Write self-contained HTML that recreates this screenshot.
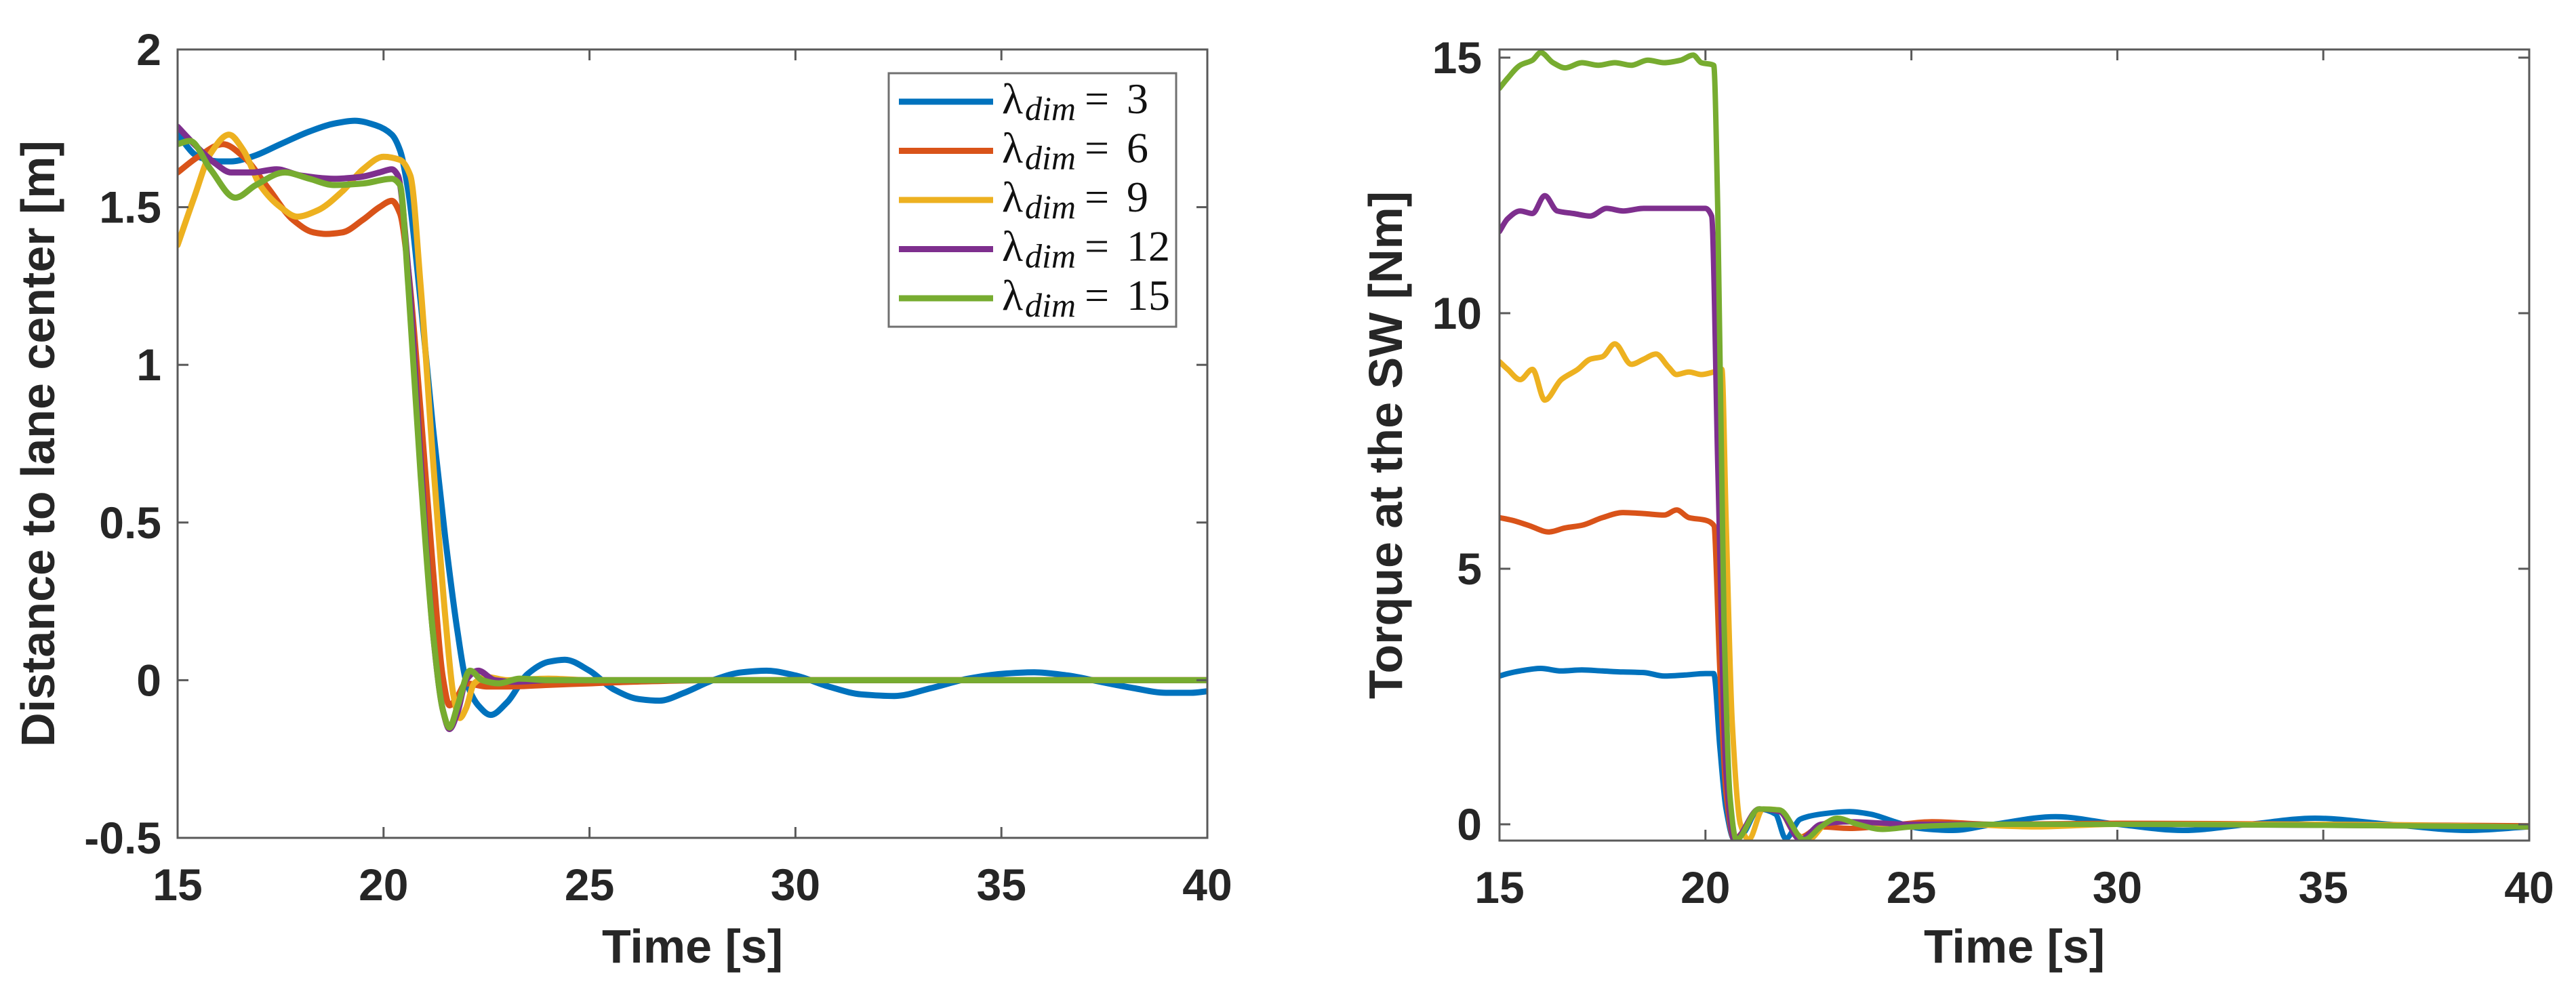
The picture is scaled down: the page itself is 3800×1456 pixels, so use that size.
<!DOCTYPE html>
<html><head><meta charset="utf-8">
<style>
html,body{margin:0;padding:0;background:#fff;}
svg{display:block;}
text{font-family:"Liberation Sans",sans-serif;font-weight:bold;fill:#262626;}
.leg{font-family:"Liberation Serif",serif;font-weight:normal;fill:#111;}
</style></head>
<body>
<svg id="fig" width="3800" height="1456" viewBox="0 0 3800 1456" xmlns="http://www.w3.org/2000/svg">
<rect width="3800" height="1456" fill="#fff"/>
<g id="left"></g>
<g id="right"></g>
</svg>
<script>
// ===== shared
const seriesNames = ["lambda-3","lambda-6","lambda-9","lambda-12","lambda-15"];
const seriesColors = ["#0072BD","#D95319","#EDB120","#7E2F8E","#77AC30"];
const legendValues = ["3","6","9","12","15"];
const xTicks = [15,20,25,30,35,40];
const leftYTicks = [-0.5,0,0.5,1,1.5,2];
const leftYLabels = ["-0.5","0","0.5","1","1.5","2"];
const rightYTicks = [0,5,10,15];

// ===== left chart data (distance to lane center)
const lt0 = [15,15.5,16,16.3,16.8,17.5,18.2,18.8,19.3,19.8,20.2,20.4,20.6,20.9,21.2,21.5,21.8,22.0,22.3,22.6,23.0,23.5,24.0,24.4,25.0,25.6,26.2,26.7,27.3,28.0,28.7,29.3,30.0,30.8,31.6,32.4,33.3,34.2,35.0,35.8,36.6,37.4,38.2,39.0,39.6,40];
const lv0 = [1.73,1.66,1.645,1.645,1.66,1.70,1.74,1.765,1.774,1.76,1.73,1.68,1.55,1.20,0.80,0.45,0.15,0.0,-0.08,-0.11,-0.07,0.02,0.058,0.065,0.03,-0.03,-0.06,-0.065,-0.04,0.0,0.025,0.03,0.015,-0.02,-0.045,-0.05,-0.025,0.005,0.02,0.025,0.015,-0.005,-0.025,-0.04,-0.04,-0.035];
const lt1 = [15,15.5,16.1,16.6,17.2,17.8,18.3,18.6,19.0,19.5,19.9,20.2,20.4,20.6,20.9,21.2,21.45,21.6,21.8,22.0,22.5,23.0,24.0,25.0,26.0,28.0,30.0,35.0,40];
const lv1 = [1.61,1.66,1.70,1.66,1.56,1.46,1.42,1.415,1.42,1.46,1.50,1.52,1.48,1.30,0.85,0.35,0.0,-0.08,-0.05,-0.01,-0.02,-0.02,-0.015,-0.01,-0.005,0,0,0,0];
const lt2 = [15,15.4,15.8,16.25,16.6,17.0,17.5,17.9,18.4,19.0,19.5,20.0,20.4,20.65,20.9,21.2,21.5,21.7,21.85,22.0,22.2,22.5,23.0,24.0,25.0,28.0,32.0,40];
const lv2 = [1.38,1.53,1.67,1.73,1.68,1.57,1.50,1.47,1.49,1.55,1.62,1.66,1.65,1.60,1.25,0.70,0.20,-0.05,-0.12,-0.09,-0.01,0.01,0.0,0.005,0.0,0,0,0];
const lt3 = [15,15.4,15.9,16.3,16.8,17.4,18.0,18.8,19.4,19.9,20.2,20.35,20.6,20.9,21.2,21.45,21.6,21.8,22.0,22.3,22.7,23.2,24.0,26.0,30.0,40];
const lv3 = [1.755,1.70,1.64,1.61,1.61,1.62,1.60,1.59,1.595,1.61,1.62,1.60,1.30,0.70,0.15,-0.10,-0.155,-0.10,0.0,0.03,0.0,-0.005,0.0,0,0,0];
const lt4 = [15,15.3,15.8,16.4,16.9,17.6,18.2,18.8,19.5,20.2,20.4,20.6,20.9,21.2,21.45,21.6,21.8,22.1,22.4,22.8,23.3,24.0,26.0,30.0,40];
const lv4 = [1.70,1.71,1.62,1.53,1.57,1.61,1.59,1.57,1.575,1.59,1.57,1.25,0.65,0.15,-0.10,-0.15,-0.08,0.03,0.00,-0.01,0.005,0.0,0,0,0];
const leftT = [lt0,lt1,lt2,lt3,lt4];
const leftV = [lv0,lv1,lv2,lv3,lv4];

// ===== right chart data (torque)
const rt0 = [15,15.2,15.5,16.0,16.5,17.0,17.5,18.0,18.5,19.0,19.5,20.0,20.2,20.35,20.5,20.7,20.9,21.3,21.7,21.95,22.3,22.8,23.5,24.0,24.6,25.2,26.0,27.0,28.5,30.0,31.6,33.2,34.8,36.6,38.5,40];
const rv0 = [2.9,2.95,3.0,3.05,3.0,3.02,3.0,2.98,2.97,2.9,2.92,2.95,2.95,1.5,0.3,-0.3,-0.2,0.3,0.2,-0.28,0.1,0.2,0.25,0.2,0.05,-0.08,-0.12,0.0,0.15,0.0,-0.12,0.0,0.12,0.0,-0.12,-0.05];
const rt1 = [15,15.3,15.7,16.2,16.6,17.0,17.5,18.0,18.5,19.0,19.3,19.6,20.0,20.2,20.35,20.5,20.7,20.9,21.3,21.8,22.3,22.8,23.5,24.5,25.5,27.0,30.0,35.0,40];
const rv1 = [6.0,5.95,5.85,5.72,5.8,5.85,6.0,6.1,6.08,6.05,6.15,6.0,5.95,5.85,3.0,0.6,-0.3,-0.15,0.3,0.25,-0.25,-0.05,-0.08,-0.02,0.05,0.0,0.02,0.0,-0.03];
const rt2 = [15,15.2,15.5,15.8,16.1,16.5,16.9,17.2,17.5,17.8,18.2,18.5,18.8,19.1,19.3,19.6,19.9,20.2,20.4,20.5,20.65,20.85,21.05,21.4,21.8,22.1,22.5,23.0,23.5,24.2,25.0,26.0,28.0,30.0,35.0,40];
const rv2 = [9.05,8.9,8.7,8.9,8.3,8.7,8.9,9.1,9.15,9.4,9.0,9.1,9.2,8.95,8.8,8.85,8.8,8.85,8.9,6.0,2.0,0.0,-0.3,0.3,0.28,-0.1,-0.3,0.05,0.05,-0.05,-0.05,0.0,-0.05,0.0,0.0,-0.05];
const rt3 = [15,15.2,15.5,15.8,16.1,16.4,16.8,17.2,17.6,18.0,18.5,19.0,19.5,20.0,20.15,20.3,20.5,20.7,21.3,21.8,22.3,22.8,23.5,25.0,30.0,40];
const rv3 = [11.6,11.85,12.0,11.95,12.3,12.0,11.95,11.9,12.05,12.0,12.05,12.05,12.05,12.05,11.9,7.0,1.0,-0.3,0.3,0.25,-0.3,0.0,0.05,0.0,0.0,-0.05];
const rt4 = [15,15.2,15.5,15.8,16.0,16.3,16.6,17.0,17.4,17.8,18.2,18.6,19.0,19.4,19.7,19.9,20.2,20.3,20.45,20.6,20.75,21.3,21.8,22.4,22.8,23.2,23.7,24.3,25.0,27.0,30.0,35.0,40];
const rv4 = [14.4,14.6,14.85,14.95,15.1,14.9,14.8,14.9,14.85,14.9,14.85,14.95,14.9,14.95,15.05,14.9,14.85,12.0,4.0,0.5,-0.3,0.3,0.28,-0.3,-0.05,0.12,0.0,-0.1,-0.05,0.0,0.0,-0.02,-0.05];
const rightT = [rt0,rt1,rt2,rt3,rt4];
const rightV = [rv0,rv1,rv2,rv3,rv4];

const NS = "http://www.w3.org/2000/svg";
function mk(parent, tag, attrs){
  const e = document.createElementNS(NS, tag);
  for (const k in attrs) e.setAttribute(k, attrs[k]);
  parent.appendChild(e);
  return e;
}
// monotone cubic (Fritsch-Carlson) path, no overshoot
function smoothPath(ts, vs, sx, sy){
  const xs = ts.map(sx), ys = vs.map(sy), n = xs.length;
  const d = [], m = new Array(n);
  for (let i=0;i<n-1;i++) d.push((ys[i+1]-ys[i])/(xs[i+1]-xs[i]));
  m[0]=d[0]; m[n-1]=d[n-2];
  for (let i=1;i<n-1;i++){
    if (d[i-1]*d[i] <= 0) m[i]=0;
    else { const h0=xs[i]-xs[i-1], h1=xs[i+1]-xs[i];
      const w1=2*h1+h0, w2=h1+2*h0;
      m[i]=(w1+w2)/(w1/d[i-1]+w2/d[i]); }
  }
  let s = "M"+xs[0].toFixed(1)+","+ys[0].toFixed(1);
  for (let i=0;i<n-1;i++){
    const h=(xs[i+1]-xs[i])/3;
    s += " C"+(xs[i]+h).toFixed(1)+","+(ys[i]+m[i]*h).toFixed(1)+" "+(xs[i+1]-h).toFixed(1)+","+(ys[i+1]-m[i+1]*h).toFixed(1)+" "+xs[i+1].toFixed(1)+","+ys[i+1].toFixed(1);
  }
  return s;
}

function makeClip(g, L, R, T, B){
  const clipId = g.id+"-clip";
  const defs = mk(g,"defs",{});
  const cp = mk(defs,"clipPath",{id:clipId});
  mk(cp,"rect",{x:L,y:T,width:R-L,height:B-T});
  return clipId;
}
function drawFrame(g, L, R, T, B, sx, sy, yTicks, yLabels, yTitle, yTitleX, yLabelRight){
  const fr = mk(g,"rect",{x:L,y:T,width:R-L,height:B-T,fill:"none",stroke:"#595959","stroke-width":3});
  
  
  const tl = 16;
  xTicks.forEach(t=>{
    const x = sx(t);
    mk(g,"line",{x1:x,y1:B,x2:x,y2:B-tl,stroke:"#595959","stroke-width":3});
    mk(g,"line",{x1:x,y1:T,x2:x,y2:T+tl,stroke:"#595959","stroke-width":3});
    const tx = mk(g,"text",{x:x,y:B+92,"text-anchor":"middle","font-size":66});
    tx.textContent = t;
    
    
  });
  yTicks.forEach((v,i)=>{
    const y = sy(v);
    mk(g,"line",{x1:L,y1:y,x2:L+tl,y2:y,stroke:"#595959","stroke-width":3});
    mk(g,"line",{x1:R,y1:y,x2:R-tl,y2:y,stroke:"#595959","stroke-width":3});
    const tx = mk(g,"text",{x:yLabelRight,y:y+23,"text-anchor":"end","font-size":66});
    tx.textContent = yLabels[i];
    
    
  });
  const xt = mk(g,"text",{x:(L+R)/2,y:1420,"text-anchor":"middle","font-size":70});
  xt.textContent = "Time [s]";
  
  
  const cy = (T+B)/2;
  const yt = mk(g,"text",{x:yTitleX,y:cy,"text-anchor":"middle","font-size":70,transform:"rotate(-90 "+yTitleX+" "+cy+")"});
  yt.textContent = yTitle;
  
  
}

// ----- left
(function(){
  const g = document.getElementById("left");
  const L=262,R=1781,T=73,B=1236;
  const sx = t => L + (t-15)/25*(R-L);
  const sy = v => T + (2-v)/2.5*(B-T);
  const clip = makeClip(g,L,R,T,B);
  const lines = mk(g,"g",{"clip-path":"url(#"+clip+")"});
  for (let i=0;i<5;i++){
    const p = mk(lines,"path",{d:smoothPath(leftT[i],leftV[i],sx,sy),fill:"none",stroke:seriesColors[i],"stroke-width":9,"stroke-linejoin":"round","stroke-linecap":"round"});
    
    
  }
  drawFrame(g,L,R,T,B,sx,sy,leftYTicks,leftYLabels,"Distance to lane center [m]",80,238);
  // legend
  const lg = mk(g,"g",{});
  
  
  mk(lg,"rect",{x:1311,y:108,width:424,height:374,fill:"#fff",stroke:"#707070","stroke-width":3});
  for (let i=0;i<5;i++){
    const y = 150 + i*72.5;
    const ln = mk(lg,"line",{x1:1326,y1:y,x2:1465,y2:y,stroke:seriesColors[i],"stroke-width":9});
    
    
    const tx = mk(lg,"text",{x:1478,y:y+17,"font-size":64,"class":"leg"});
    
    
    const a = mk(tx,"tspan",{}); a.textContent = "λ";
    const b = mk(tx,"tspan",{x:1512,dy:10,"font-size":50,"font-style":"italic"}); b.textContent = "dim";
    const c = mk(tx,"tspan",{x:1600,dy:-10}); c.textContent = "=";
    const e = mk(tx,"tspan",{x:1662}); e.textContent = legendValues[i];
  }
})();

// ----- right
(function(){
  const g = document.getElementById("right");
  const L=2212,R=3731,T=73,B=1240;
  const sx = t => L + (t-15)/25*(R-L);
  const sy = v => 1216 - v*75.4;
  const clip = makeClip(g,L,R,T,B);
  const lines = mk(g,"g",{"clip-path":"url(#"+clip+")"});
  for (let i=0;i<5;i++){
    const p = mk(lines,"path",{d:smoothPath(rightT[i],rightV[i],sx,sy),fill:"none",stroke:seriesColors[i],"stroke-width":8,"stroke-linejoin":"round","stroke-linecap":"round"});
    
    
  }
  drawFrame(g,L,R,T,B,sx,sy,rightYTicks,rightYTicks.map(String),"Torque at the SW [Nm]",2068,2186);
})();
</script>
</body></html>
